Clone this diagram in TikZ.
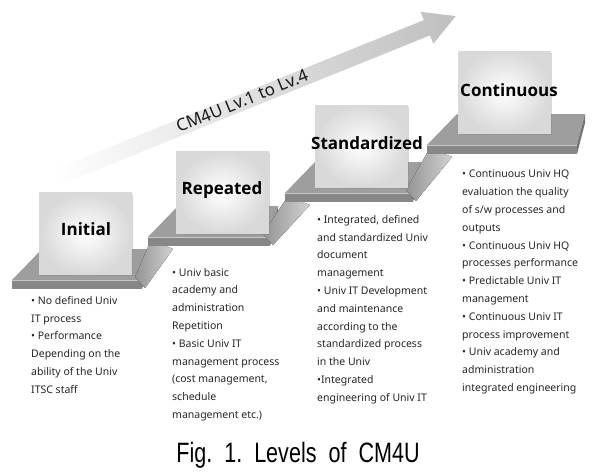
\documentclass[tikz,border=0pt]{standalone}
\usepackage{fontspec}
\setmainfont{Noto Sans}
\newfontfamily\lvfont{Open Sans}
\newfontfamily\capfont{Liberation Sans}
\usetikzlibrary{calc,positioning,shapes.arrows,shadows}

\begin{document}
\begin{tikzpicture}[x=1pt,y=-1pt,
    lvbox/.style={draw=black!15, inner color=white, outer color=black!15,
        minimum width=92pt, minimum height=82pt, inner sep=0pt,
        drop shadow={opacity=.3,shadow xshift=1.5pt,shadow yshift=-1.5pt}},
    lvname/.style={font=\lvfont\bfseries\fontsize{17}{20}\selectfont},
    desc/.style={anchor=north west, align=left, inner sep=0pt, text=black!85,
        font=\fontsize{10.5}{17.8}\selectfont},
    ptop/.style={fill=black!38},
    pfront/.style={fill=black!47},
    pside/.style={fill=black!55},
    ramp/.style={left color=black!42, right color=black!18},
    bigarrow/.style={single arrow, anchor=tail, rotate=22, inner xsep=0pt,
        inner ysep=8pt, minimum height=432pt, single arrow head extend=9pt,
        single arrow tip angle=58, left color=white, middle color=black!15,
        right color=black!25}]
\fill[white] (0,0) rectangle (610,474);
\useasboundingbox (0,0) rectangle (610,474);

\node[bigarrow] (lvarrow) at (55,178) {};
\node[rotate=22, font=\fontsize{17}{20}\selectfont, text=black!90] (lvtext) at (242,101) {CM4U Lv.1 to Lv.4};

% platforms and ramps
\foreach \x/\y/\w [count=\n, remember=\n as \m (initially 0)] in
    {12/280/130, 148/237/122, 285/193/128, 427/145/150} {
  \coordinate (fl\n) at (\x,\y);
  \coordinate (fr\n) at (\x+\w,\y);
  \ifnum\n>1
    \fill[ramp] ($(fr\m)+(-7,-3)$) -- ($(fr\m)+(3,8)$) -- ($(fl\n)+(25,12)$) -- ($(fl\n)+(3,3)$) -- cycle;
  \fi
  \fill[ptop] (fl\n) -- (fr\n) -- ($(fr\n)+(8,-31)$) -- ($(fl\n)+(30,-31)$) -- cycle;
  \fill[pside] (fr\n) -- ($(fr\n)+(8,-31)$) -- ($(fr\n)+(8,-22)$) -- ($(fr\n)+(0,9)$) -- cycle;
  \fill[pfront] (fl\n) -- (fr\n) -- ($(fr\n)+(0,9)$) -- ($(fl\n)+(0,9)$) -- cycle;
  \draw[black!22, line width=.8pt] (fl\n) -- (fr\n);
}

\node[lvbox] (initial) at (85.5,233.5) {};
\node[lvbox] (repeated) at (222,192.5) {};
\node[lvbox] (standardized) at (361.5,146) {};
\node[lvbox] (continuous) at (504,92) {};

\node[lvname] (initial-l) at (86,229) {Initial};
\node[lvname] (repeated-l) at (222,190) {Repeated};
\node[lvname] (standardized-l) at (367,143) {Standardized};
\node[lvname] (continuous-l) at (509,90) {Continuous};

\node[desc] (initial-d) at (31,296) {• No defined Univ\\IT process\\• Performance\\Depending on the\\ability of the Univ\\ITSC staff};
\node[desc] (repeated-d) at (172,268) {• Univ basic\\academy and\\administration\\Repetition\\• Basic Univ IT\\management process\\(cost management,\\schedule\\management etc.)};
\node[desc] (standardized-d) at (317,215) {• Integrated, defined\\and standardized Univ\\document\\management\\• Univ IT Development\\and maintenance\\according to the\\standardized process\\in the Univ\\•Integrated\\engineering of Univ IT};
\node[desc] (continuous-d) at (462,170) {• Continuous Univ HQ\\evaluation the quality\\of s/w processes and\\outputs\\• Continuous Univ HQ\\processes performance\\• Predictable Univ IT\\management\\• Continuous Univ IT\\process improvement\\• Univ academy and\\administration\\integrated engineering};

\node[font=\capfont\fontsize{28}{30}\selectfont, xscale=0.77] (caption) at (298,455) {Fig.\ \ 1.\ \ Levels\ \ of\ \ CM4U};
\end{tikzpicture}
\end{document}
